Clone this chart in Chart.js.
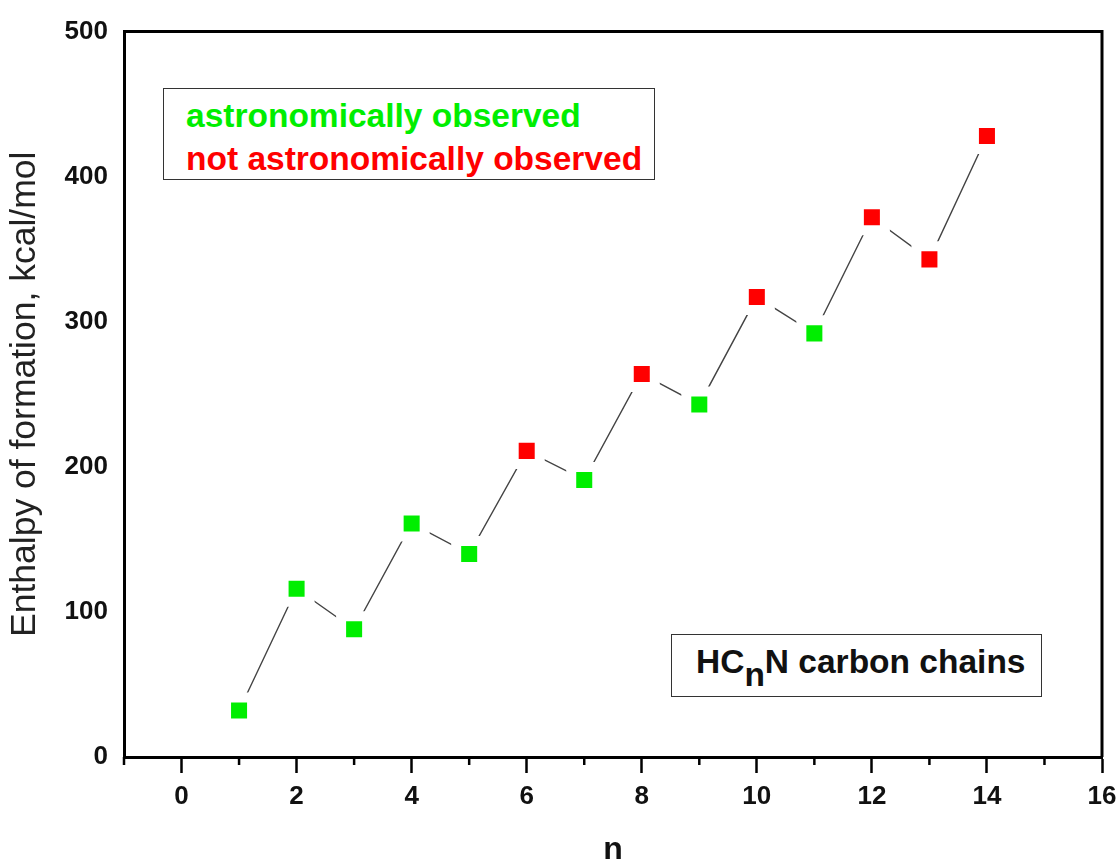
<!DOCTYPE html>
<html>
<head>
<meta charset="utf-8">
<script src="https://cdn.jsdelivr.net/npm/chart.js@4"></script>
<style>
  html, body { margin: 0; padding: 0; background: #fff; }
  #wrap { position: relative; width: 1119px; height: 863px; }
  canvas { position: absolute; left: 0; top: 0; }
  .box { position: absolute; border: 1.5px solid #333; background: #fff; box-sizing: border-box;
         font-family: "Liberation Sans", Arial, sans-serif; font-weight: bold; font-size: 33.5px; white-space: nowrap; }
  #legendBox { left: 163px; top: 88px; width: 492px; height: 92px; padding: 5px 0 0 22px; line-height: 43px; }
  #labelBox { left: 671px; top: 634px; width: 371px; height: 63px; padding: 10px 0 0 24px; color: #111; line-height: 34px; }
  #labelBox sub { font-size: 33.5px; vertical-align: -13px; line-height: 0; }
</style>
</head>
<body>
<div id="wrap">
  <canvas id="c" width="1119" height="863"></canvas>
  <div id="legendBox" class="box">
    <div style="color:#00ee00">astronomically observed</div>
    <div style="color:#ff0000">not astronomically observed</div>
  </div>
  <div id="labelBox" class="box">HC<sub>n</sub>N carbon chains</div>
</div>
<script>
const nValues = [1, 2, 3, 4, 5, 6, 7, 8, 9, 10, 11, 12, 13, 14];
const enthalpy = [32, 116, 88, 161, 140, 211, 191, 264, 243, 317, 292, 372, 343, 428];
const observed = [true, true, true, true, true, false, true, false, true, false, true, false, false, false];
const xTickLabels = [0, 2, 4, 6, 8, 10, 12, 14, 16];
const yTickLabels = [0, 100, 200, 300, 400, 500];

const GREEN = '#00ee00';
const RED = '#ff0000';

const framePlugin = {
  id: 'frame',
  afterDraw(chart) {
    const ctx = chart.ctx;
    const a = chart.chartArea;
    const xs = chart.scales.x;
    ctx.save();
    ctx.strokeStyle = '#000';
    ctx.lineWidth = 3;
    ctx.beginPath();
    ctx.moveTo(a.left, a.top);
    ctx.lineTo(a.right, a.top);
    ctx.lineTo(a.right, a.bottom);
    ctx.stroke();
    ctx.lineWidth = 2.5;
    for (let v = -1; v <= 15; v += 2) {
      const px = xs.getPixelForValue(v);
      ctx.beginPath();
      ctx.moveTo(px, a.bottom);
      ctx.lineTo(px, a.bottom + 8);
      ctx.stroke();
    }
    ctx.restore();
  }
};

new Chart(document.getElementById('c'), {
  type: 'line',
  data: {
    datasets: [{
      data: nValues.map((n, i) => ({ x: n, y: enthalpy[i] })),
      borderColor: '#444',
      borderWidth: 1.4,
      pointStyle: 'rect',
      pointRadius: 18.4,
      pointHoverRadius: 18.4,
      pointBackgroundColor: observed.map(o => o ? GREEN : RED),
      pointBorderColor: '#fff',
      pointBorderWidth: 10,
      tension: 0,
      fill: false
    }]
  },
  options: {
    responsive: false,
    animation: false,
    devicePixelRatio: 1,
    layout: { autoPadding: false, padding: { left: 0, top: 31, right: 17, bottom: 0 } },
    plugins: { legend: { display: false }, tooltip: { enabled: false } },
    scales: {
      x: {
        type: 'linear',
        min: -1,
        max: 16,
        afterFit(s) { s.height = 106; s.paddingRight = 0; s.paddingLeft = 0; },
        afterBuildTicks(s) { s.ticks = xTickLabels.map(v => ({ value: v })); },
        ticks: {
          color: '#111',
          padding: 8,
          font: { family: 'Liberation Sans', weight: 'bold', size: 26 },
          callback: v => String(v)
        },
        grid: { drawOnChartArea: false, drawTicks: true, tickLength: 16, tickWidth: 2.5, tickColor: '#000' },
        border: { display: true, color: '#000', width: 3 },
        title: {
          display: true,
          text: 'n',
          color: '#111',
          font: { family: 'Liberation Sans', weight: 'bold', size: 32, lineHeight: 0.8 },
          padding: { top: 0, bottom: 0 }
        }
      },
      y: {
        type: 'linear',
        min: 0,
        max: 500,
        afterFit(s) { s.width = 124; },
        afterBuildTicks(s) { s.ticks = yTickLabels.map(v => ({ value: v })); },
        ticks: {
          color: '#111',
          padding: 16,
          font: { family: 'Liberation Sans', weight: 'bold', size: 26 },
          callback: v => String(v)
        },
        grid: { drawOnChartArea: false, drawTicks: false },
        border: { display: true, color: '#000', width: 3 },
        title: {
          display: true,
          text: 'Enthalpy of formation, kcal/mol',
          color: '#222',
          font: { family: 'Liberation Sans', weight: 'normal', size: 35.5, lineHeight: 1 },
          padding: { top: 7, bottom: 0 }
        }
      }
    }
  },
  plugins: [framePlugin]
});
</script>
</body>
</html>
